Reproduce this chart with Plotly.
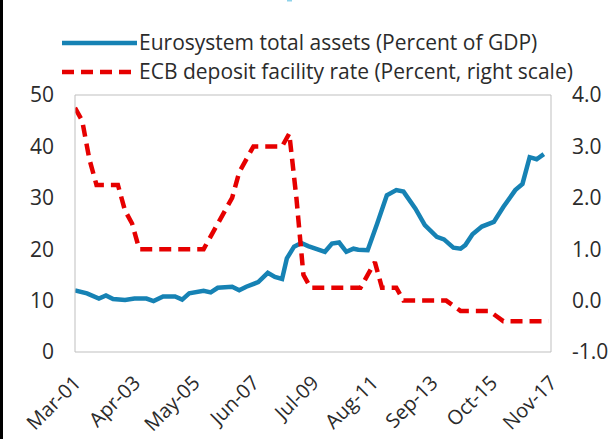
import plotly.graph_objects as go

# Eurosystem total assets (% of GDP), left axis
assets_dates = ["2001-03", "2001-08", "2002-01", "2002-04", "2002-07", "2002-12", "2003-04", "2003-09",
                "2003-12", "2004-04", "2004-09", "2004-12", "2005-03", "2005-09", "2005-12", "2006-03",
                "2006-09", "2006-12", "2007-03", "2007-08", "2007-12", "2008-03", "2008-06", "2008-08",
                "2008-11", "2009-02", "2009-05", "2009-12", "2010-03", "2010-06", "2010-09", "2010-12",
                "2011-02", "2011-06", "2011-10", "2012-02", "2012-06", "2012-09", "2013-02", "2013-06",
                "2013-11", "2014-02", "2014-06", "2014-09", "2014-11", "2015-02", "2015-06", "2015-11",
                "2016-03", "2016-08", "2016-11", "2017-02", "2017-05", "2017-08"]
assets_values = [12.0, 11.4, 10.4, 11.0, 10.3, 10.1, 10.4, 10.4,
                 9.9, 10.8, 10.8, 10.2, 11.4, 11.9, 11.6, 12.5,
                 12.7, 12.0, 12.7, 13.6, 15.4, 14.6, 14.2, 18.2,
                 20.5, 21.2, 20.6, 19.5, 21.1, 21.3, 19.5, 20.1,
                 19.9, 19.8, 25.0, 30.5, 31.5, 31.2, 27.9, 24.7,
                 22.4, 21.9, 20.3, 20.1, 20.8, 22.9, 24.4, 25.3,
                 28.2, 31.5, 32.7, 37.9, 37.5, 38.5]

# ECB deposit facility rate (%), right axis, quarterly
rate_dates = ["2001-03", "2001-06", "2001-09", "2001-12", "2002-03", "2002-06", "2002-09", "2002-12",
              "2003-03", "2003-06", "2003-09", "2003-12", "2004-03", "2004-06", "2004-09", "2004-12",
              "2005-03", "2005-06", "2005-09", "2005-12", "2006-03", "2006-06", "2006-09", "2006-12",
              "2007-03", "2007-06", "2007-09", "2007-12", "2008-03", "2008-06", "2008-09", "2008-12",
              "2009-03", "2009-06", "2009-09", "2009-12", "2010-03", "2010-06", "2010-09", "2010-12",
              "2011-03", "2011-06", "2011-09", "2011-12", "2012-03", "2012-06", "2012-09", "2012-12",
              "2013-03", "2013-06", "2013-09", "2013-12", "2014-03", "2014-06", "2014-09", "2014-12",
              "2015-03", "2015-06", "2015-09", "2015-12", "2016-03", "2016-06", "2016-09", "2016-12",
              "2017-03", "2017-06", "2017-10"]
rate_values = [3.75, 3.50, 2.75, 2.25, 2.25, 2.25, 2.25, 1.75,
               1.50, 1.00, 1.00, 1.00, 1.00, 1.00, 1.00, 1.00,
               1.00, 1.00, 1.00, 1.25, 1.50, 1.75, 2.00, 2.50,
               2.75, 3.00, 3.00, 3.00, 3.00, 3.00, 3.25, 2.00,
               0.50, 0.25, 0.25, 0.25, 0.25, 0.25, 0.25, 0.25,
               0.25, 0.50, 0.75, 0.25, 0.25, 0.25, 0.00, 0.00,
               0.00, 0.00, 0.00, 0.00, 0.00, -0.10, -0.20, -0.20,
               -0.20, -0.20, -0.20, -0.30, -0.40, -0.40, -0.40, -0.40,
               -0.40, -0.40, -0.40]

x_tick_dates = ["2001-03-01", "2003-04-01", "2005-05-01", "2007-06-01", "2009-07-01",
                "2011-08-01", "2013-09-01", "2015-10-01", "2017-11-01"]
x_tick_labels = ["Mar-01", "Apr-03", "May-05", "Jun-07", "Jul-09", "Aug-11", "Sep-13", "Oct-15", "Nov-17"]
left_ticks = [0, 10, 20, 30, 40, 50]
right_ticks = [-1, 0, 1, 2, 3, 4]
right_tick_labels = ["-1.0", "0.0", "1.0", "2.0", "3.0", "4.0"]

legend_labels = ["Eurosystem total assets (Percent of GDP)",
                 "ECB deposit facility rate (Percent, right scale)"]

BLUE = "#1682b4"
RED = "#e60000"
FONT = "Open Sans"
TXT = "#2b2b2b"

fig = go.Figure()
fig.add_trace(go.Scatter(x=assets_dates, y=assets_values, mode="lines",
                         line=dict(color=BLUE, width=4.5), name=legend_labels[0]))
fig.add_trace(go.Scatter(x=rate_dates, y=rate_values, mode="lines", yaxis="y2",
                         line=dict(color=RED, width=4.5, dash="12px,7px"), name=legend_labels[1]))

W, H = 612, 439
L, R, T, B = 75, 61, 95, 87
pw, ph = W - L - R, H - T - B


def px(x):
    return (x - L) / pw


def py(y):
    return (H - B - y) / ph


shapes = [
    dict(type="line", xref="paper", yref="paper", x0=px(62), x1=px(137), y0=py(43), y1=py(43),
         line=dict(color=BLUE, width=4.5)),
    dict(type="line", xref="paper", yref="paper", x0=px(62), x1=px(137), y0=py(72), y1=py(72),
         line=dict(color=RED, width=4.5, dash="12px,7px")),
    dict(type="rect", xref="paper", yref="paper", x0=0, x1=1, y0=0, y1=1,
         line=dict(color="#bfbfbf", width=1)),
    # left black frame edge
    dict(type="line", xref="paper", yref="paper", x0=px(1.5), x1=px(1.5), y0=py(0), y1=py(H),
         line=dict(color="black", width=3)),
    # cut-off title fragment at the top
    dict(type="rect", xref="paper", yref="paper", x0=px(287), x1=px(292), y0=py(0), y1=py(1.5),
         line=dict(width=0), fillcolor="#8fd3ea"),
]
annotations = [
    dict(xref="paper", yref="paper", x=px(137), y=py(y), text=t, showarrow=False,
         xanchor="left", yanchor="middle", font=dict(family=FONT, size=21, color=TXT))
    for t, y in zip(legend_labels, [42, 71])
]

fig.update_layout(
    template="none",
    width=W, height=H,
    margin=dict(l=L, r=R, t=T, b=B, pad=0, autoexpand=False),
    paper_bgcolor="white", plot_bgcolor="white",
    showlegend=False,
    font=dict(family=FONT, size=21, color=TXT),
    xaxis=dict(type="date", range=["2001-03-01", "2017-11-01"], tickvals=x_tick_dates,
               ticktext=x_tick_labels, tickangle=-45, showgrid=False, zeroline=False,
               showline=False, ticks="", automargin=False, ticklabelstandoff=14,
               tickfont=dict(size=20, color=TXT)),
    yaxis=dict(range=[0, 50], tickvals=left_ticks, showgrid=False, zeroline=False,
               showline=False, ticks="", automargin=False, ticklabelstandoff=20,
               tickfont=dict(size=21, color=TXT)),
    yaxis2=dict(range=[-1, 4], tickvals=right_ticks, ticktext=right_tick_labels, overlaying="y",
                side="right", showgrid=False, zeroline=False, showline=False, ticks="",
                automargin=False, ticklabelstandoff=20, tickfont=dict(size=21, color=TXT)),
    shapes=shapes,
    annotations=annotations,
)

fig.write_html("out.html", config={"displayModeBar": False},
               post_script="document.body.style.margin='0';document.body.style.overflow='hidden';")
